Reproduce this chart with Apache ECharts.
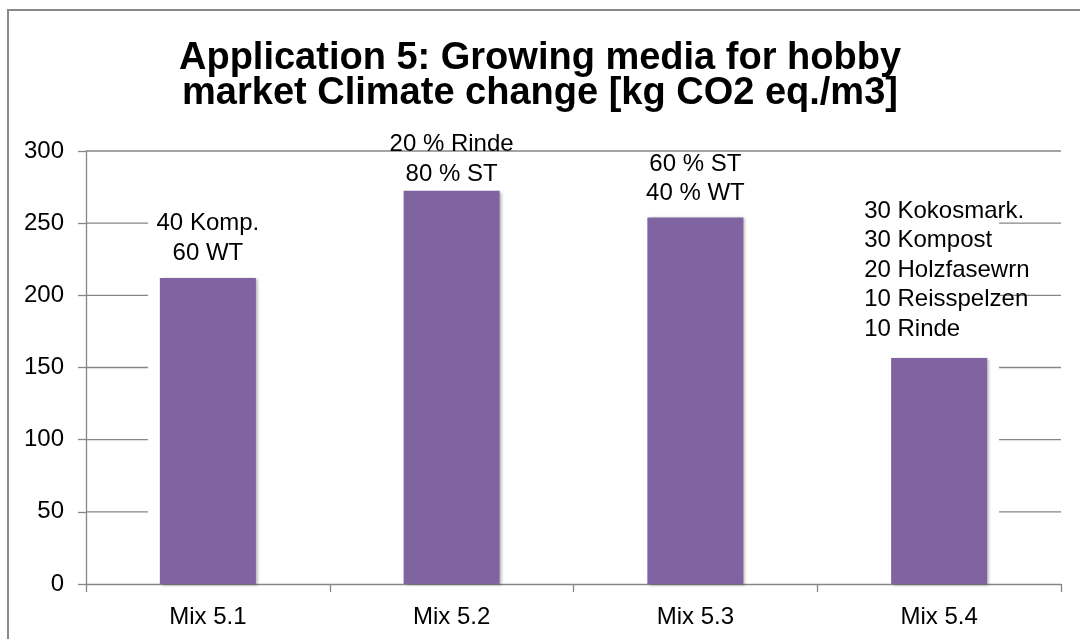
<!DOCTYPE html>
<html>
<head>
<meta charset="utf-8">
<script src="https://cdn.jsdelivr.net/npm/echarts@6/dist/echarts.min.js"></script>
<style>
  html, body { margin: 0; padding: 0; background: #fff; }
  #wrap { position: relative; width: 1080px; height: 639px; overflow: hidden; }
  #chart { position: absolute; left: 0; top: 0; width: 1080px; height: 639px; }
  #frame { position: absolute; left: 7px; top: 9px; width: 1200px; height: 800px;
           border: 2px solid #8a8a8a; pointer-events: none; }
</style>
</head>
<body>
<div id="wrap">
  <div id="chart"></div>
  <div id="frame"></div>
</div>
<script>
// ---- data ----
const titleLines = ['Application 5: Growing media for hobby', 'market Climate change [kg CO2 eq./m3]'];
const categories = ['Mix 5.1', 'Mix 5.2', 'Mix 5.3', 'Mix 5.4'];
const values = [212, 272.5, 254, 156.5];
const barLabels = [
  '40 Komp.\n60 WT',
  '20 % Rinde\n80 % ST',
  '60 % ST\n40 % WT',
  '30 Kokosmark.\n30 Kompost\n20 Holzfasewrn\n10 Reisspelzen\n10 Rinde'
];
const yMin = 0, yMax = 300, yStep = 50;
const gridTicks = [50, 100, 150, 200, 250, 300];

// ---- styling (not data) ----
const FONT = '"Liberation Sans", Arial, sans-serif';
const GREY = '#868686';
const labelGaps = [10, 2, 9, 14];
const labelAlign = ['center', 'center', 'center', 'left'];
const labelOffsetX = [0, 0, 0, -75];

const chart = echarts.init(document.getElementById('chart'), null, { renderer: 'canvas' });

const barData = values.map((v, i) => ({
  value: v,
  label: {
    distance: labelGaps[i],
    align: labelAlign[i],
    offset: [labelOffsetX[i], 0]
  }
}));

chart.setOption({
  animation: false,
  backgroundColor: '#ffffff',
  title: {
    text: titleLines.join('\n'),
    left: 'center',
    top: 36,
    textStyle: {
      fontFamily: FONT,
      fontWeight: 'bold',
      fontSize: 38,
      lineHeight: 35,
      color: '#000'
    }
  },
  grid: { left: 86, right: 19, top: 151, bottom: 55, containLabel: false },
  xAxis: {
    type: 'category',
    data: categories,
    boundaryGap: true,
    axisLine: { show: true, lineStyle: { color: GREY, width: 1.3 } },
    axisTick: { show: true, length: 8, alignWithLabel: false, lineStyle: { color: GREY, width: 1.3 } },
    axisLabel: { color: '#000', fontFamily: FONT, fontSize: 24, margin: 21 },
    splitLine: { show: false }
  },
  yAxis: {
    type: 'value',
    min: yMin,
    max: yMax,
    interval: yStep,
    axisLine: { show: true, lineStyle: { color: GREY, width: 1.3 } },
    axisTick: { show: true, length: 8, lineStyle: { color: GREY, width: 1.3 } },
    axisLabel: { color: '#000', fontFamily: FONT, fontSize: 24, margin: 22 },
    splitLine: { show: false }
  },
  series: [
    {
      type: 'custom',
      z: 1,
      silent: true,
      data: gridTicks.map(v => [0, v]),
      renderItem: function (params, api) {
        const cs = params.coordSys;
        const v = api.value(1);
        const band = api.size([1, 0])[0];
        const y = api.coord([0, v])[1];
        const style = { stroke: GREY, lineWidth: 1.3 };
        const x0 = cs.x, x1 = cs.x + cs.width;
        if (v >= yMax) {
          return { type: 'line', shape: { x1: x0, y1: y, x2: x1, y2: y }, style: style };
        }
        const first = api.coord([0, v])[0];
        const last = api.coord([categories.length - 1, v])[0];
        const half = band * 0.246;
        return {
          type: 'group',
          children: [
            { type: 'line', shape: { x1: x0, y1: y, x2: first - half, y2: y }, style: style },
            { type: 'line', shape: { x1: last + half, y1: y, x2: x1, y2: y }, style: style }
          ]
        };
      }
    },
    {
      type: 'bar',
      z: 2,
      data: barData,
      barWidth: '39.4%',
      itemStyle: {
        color: '#8064A2',
        shadowColor: 'rgba(0,0,0,0.3)',
        shadowBlur: 3,
        shadowOffsetX: 2,
        shadowOffsetY: 1
      },
      label: {
        show: true,
        position: 'top',
        color: '#000',
        fontFamily: FONT,
        fontSize: 24,
        lineHeight: 29.5,
        formatter: function (p) { return barLabels[p.dataIndex]; }
      }
    }
  ]
});
</script>
</body>
</html>
